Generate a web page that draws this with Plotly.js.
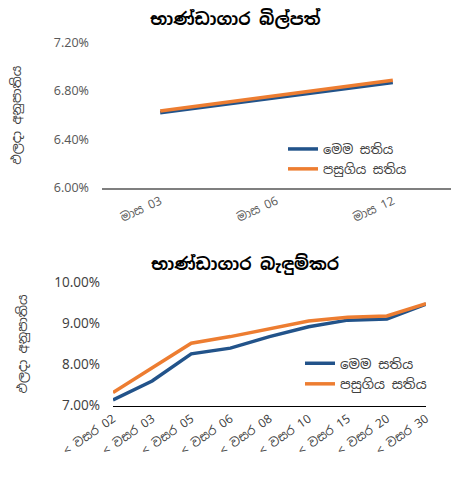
<!DOCTYPE html>
<html>
<head>
<meta charset="utf-8">
<script src="https://cdn.plot.ly/plotly-3.0.1.min.js"></script>
<style>html,body{margin:0;padding:0;background:#fff;}#chart{width:451px;height:490px;}</style>
</head>
<body>
<div id="chart"></div>
<script>
// Top chart: treasury bills
const billCategories = ["මාස 03", "මාස 06", "මාස 12"];
const billThisWeek = [6.62, 6.745, 6.87];
const billLastWeek = [6.635, 6.76, 6.89];

// Bottom chart: treasury bonds
const bondCategories = ["< වසර 02", "< වසර 03", "< වසර 05", "< වසර 06", "< වසර 08", "< වසර 10", "< වසර 15", "< වසර 20", "< වසර 30"];
const bondThisWeek = [7.14, 7.60, 8.26, 8.40, 8.68, 8.92, 9.08, 9.11, 9.47];
const bondLastWeek = [7.32, 7.91, 8.52, 8.68, 8.88, 9.06, 9.15, 9.18, 9.48];

const seriesNames = ["මෙම සතිය", "පසුගිය සතිය"];
const yTitle = "ඵලදා අනුපාතිය";
const titles = ["භාණ්ඩාගාර බිල්පත්", "භාණ්ඩාගාර බැඳුම්කර"];

const FONT = "Noto Sans Sinhala, Noto Sans, Liberation Sans, sans-serif";
const BLUE = "#22538a";
const ORANGE = "#ed7d31";

const traces = [
  {x: billCategories, y: billThisWeek, name: seriesNames[0], type: "scatter", mode: "lines",
   line: {color: BLUE, width: 3.5}, xaxis: "x", yaxis: "y", legend: "legend"},
  {x: billCategories, y: billLastWeek, name: seriesNames[1], type: "scatter", mode: "lines",
   line: {color: ORANGE, width: 3.5}, xaxis: "x", yaxis: "y", legend: "legend"},
  {x: bondCategories, y: bondThisWeek, name: seriesNames[0], type: "scatter", mode: "lines",
   line: {color: BLUE, width: 3.5}, xaxis: "x2", yaxis: "y2", legend: "legend2"},
  {x: bondCategories, y: bondLastWeek, name: seriesNames[1], type: "scatter", mode: "lines",
   line: {color: ORANGE, width: 3.5}, xaxis: "x2", yaxis: "y2", legend: "legend2"}
];

const layout = {
  width: 451, height: 490,
  margin: {l: 0, r: 0, t: 0, b: 0},
  paper_bgcolor: "#fff", plot_bgcolor: "#fff",
  font: {family: FONT, color: "#595959", size: 12},
  xaxis: {domain: [102/451, 1], range: [-0.5, 2.5], type: "category",
    showgrid: false, zeroline: false, showline: true, linecolor: "#7f7f7f", linewidth: 2,
    ticks: "", tickangle: -25, tickfont: {size: 12, color: "#595959"}, anchor: "y", fixedrange: true},
  yaxis: {domain: [1 - 187.7/490, 1 - 42.7/490], range: [6.0, 7.2], dtick: 0.4,
    tickformat: ".2f", ticksuffix: "%", showgrid: false, zeroline: false, showline: false,
    ticks: "", ticklabelstandoff: 12, tickfont: {size: 12.5, color: "#595959"}, anchor: "x",
    title: {text: yTitle, font: {size: 13, color: "#404040"}, standoff: 29}},
  xaxis2: {domain: [113/451, 426/451], range: [0, 8], type: "category",
    showgrid: false, zeroline: false, showline: true, linecolor: "#000", linewidth: 1.5,
    ticks: "", tickangle: -35, tickfont: {size: 12, color: "#404040"}, anchor: "y2", fixedrange: true},
  yaxis2: {domain: [1 - 405.7/490, 1 - 282.3/490], range: [7.0, 10.0], dtick: 1,
    tickformat: ".2f", ticksuffix: "%", showgrid: false, zeroline: false, showline: false,
    ticks: "", ticklabelstandoff: 12, tickfont: {size: 13.5, color: "#404040"}, anchor: "x2",
    title: {text: yTitle, font: {size: 13, color: "#404040"}, standoff: 23}},
  legend: {x: 283/451, y: 1 - 134/490, xanchor: "left", yanchor: "top",
    bgcolor: "rgba(0,0,0,0)", font: {size: 13, color: "#404040"}, tracegroupgap: 0, itemwidth: 30},
  legend2: {x: 300/451, y: 1 - 348/490, xanchor: "left", yanchor: "top",
    bgcolor: "rgba(0,0,0,0)", font: {size: 13.5, color: "#404040"}, tracegroupgap: 0, itemwidth: 30},
  annotations: [
    {text: "<b>" + titles[0] + "</b>", xref: "paper", yref: "paper", x: 235/451, y: 1 - 18/490,
     xanchor: "center", yanchor: "middle", showarrow: false, font: {size: 17, color: "#000"}},
    {text: "<b>" + titles[1] + "</b>", xref: "paper", yref: "paper", x: 245/451, y: 1 - 264/490,
     xanchor: "center", yanchor: "middle", showarrow: false, font: {size: 17, color: "#000"}}
  ],
  showlegend: true
};

Plotly.newPlot("chart", traces, layout, {displayModeBar: false, staticPlot: true});
</script>
</body>
</html>
